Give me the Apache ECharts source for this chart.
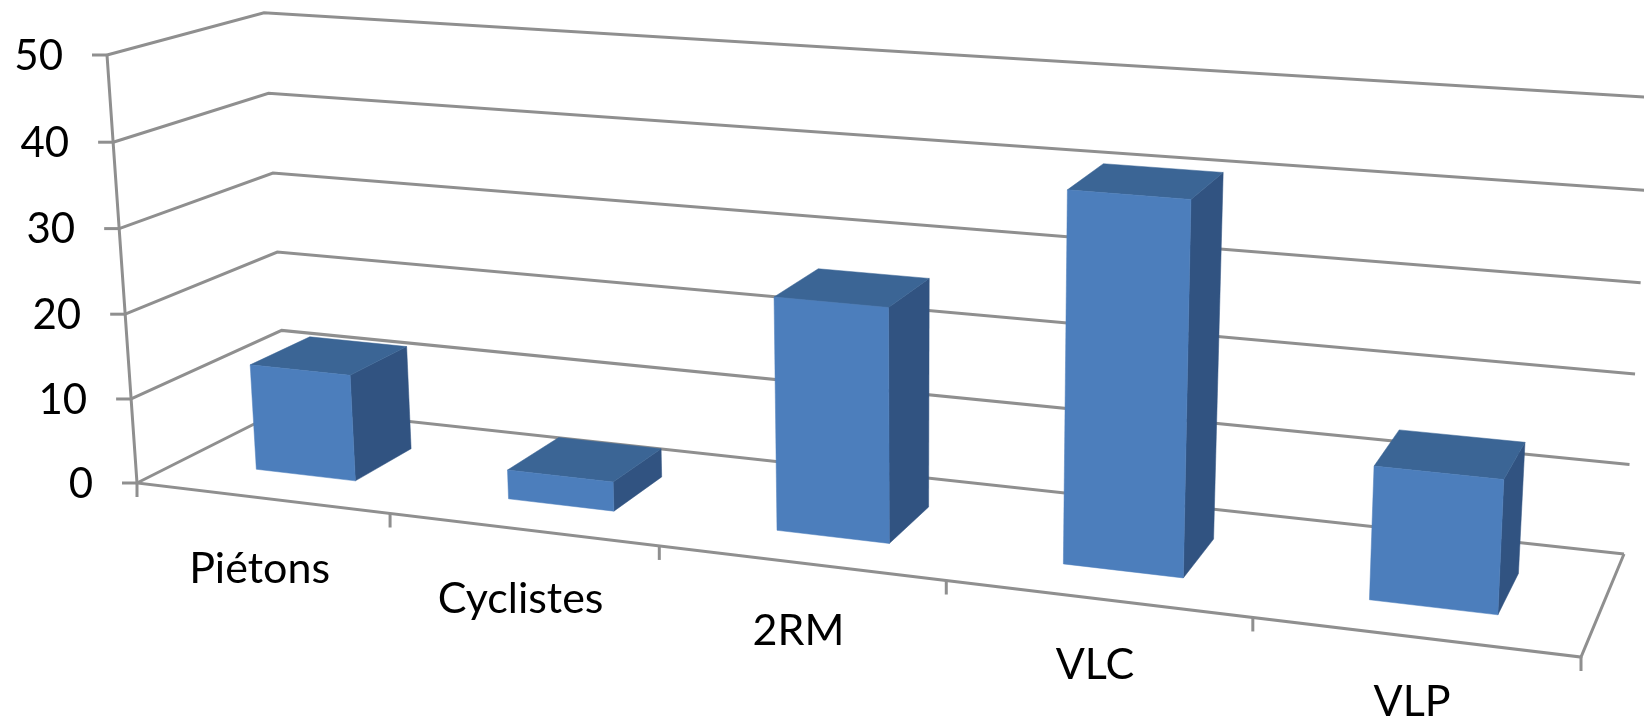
<!DOCTYPE html>
<html>
<head>
<meta charset="utf-8">
<style>html,body{margin:0;padding:0;background:#fff}#c{width:1644px;height:720px}</style>
<script src="https://cdn.jsdelivr.net/npm/echarts@6/dist/echarts.min.js"></script>
</head>
<body>
<div id="c"></div>
<script>
// ---- data ----
var categories = ['Piétons', 'Cyclistes', '2RM', 'VLC', 'VLP'];
var values = [12.6, 3.4, 26.5, 41, 14.4];
var valueTicks = [0, 10, 20, 30, 40, 50];

// ---- perspective frame of the 3D box (pixel corners of the chart's box) ----
var FLB = [137, 483], FRB = [1581, 657], BLB = [286, 408], BRB = [1624, 554];
var FLT = [107, 55], FRT = [1604, 164], BLT = [264, 12.7], BRT = [1652, 97.5];
var KX = 0.85, KH = 0.977, BAR_V0 = 0.3, BAR_V1 = 0.71, BAR_BAND = 0.4, BAR_SHIFT = 0.0016;
var LINE = '#8f8f8f', LW = 3;
var FONT_Y = '42px Lato, Carlito, sans-serif', FONT_X = '43px Lato, Carlito, sans-serif';

function warp(t, k) { return k * t / (1 + (k - 1) * t); }
function mix(a, b, t) { return [a[0] + (b[0] - a[0]) * t, a[1] + (b[1] - a[1]) * t]; }
// u, h in 0..1 along the plain cartesian axes, v is the depth 0..1
function project(u, v, h) {
  var a = warp(u, KX), b = warp(h, KH);
  var bottom = mix(mix(FLB, FRB, a), mix(BLB, BRB, a), v);
  var top = mix(mix(FLT, FRT, a), mix(BLT, BRT, a), v);
  return mix(bottom, top, b);
}
function norm(params, api, x, val) {
  var cs = params.coordSys, p = api.coord([x, val]);
  return {
    u: (p[0] - cs.x) / cs.width,
    h: (cs.y + cs.height - p[1]) / cs.height,
    band: api.size([1, 0])[0] / cs.width
  };
}
function line(points) {
  return { type: 'polyline', shape: { points: points }, style: { stroke: LINE, lineWidth: LW, fill: null, lineJoin: 'miter' } };
}
function face(points, color) {
  return { type: 'polygon', shape: { points: points }, style: { fill: color, stroke: color, lineWidth: 0.5 } };
}
function text(str, p, align, font) {
  return { type: 'text', style: { text: str, x: p[0], y: p[1], fill: '#000', font: font, align: align, verticalAlign: 'middle' } };
}

function renderFrame(params, api) {
  var n = norm(params, api, 0, api.value(1));
  var h = n.h, kids = [];
  var f = project(0, 0, h), b = project(0, 1, h), r = project(1, 1, h);
  kids.push(line([f, b, r]));
  kids.push(line([[f[0] - 15, f[1]], f]));
  kids.push(text(String(api.value(1)), [f[0] - 44, f[1] + 1], 'right', FONT_Y));
  return { type: 'group', children: kids };
}
function renderEdges(params, api) {
  var i = api.value(0), n = norm(params, api, i, 0), kids = [];
  var u = (i + 1) * n.band, p = project(u, 0, 0);
  kids.push(line([p, [p[0], p[1] + 14]]));
  if (i === 0) {
    var o = project(0, 0, 0);
    kids.push(line([[o[0], o[1]], [o[0], o[1] + 14]]));
    kids.push(line([project(0, 0, 1), o, project(1, 0, 0), project(1, 1, 0)]));
  }
  return { type: 'group', children: kids };
}
function renderBar(params, api) {
  var i = api.value(0), n = norm(params, api, i, api.value(1));
  var half = BAR_BAND * n.band / 2;
  var u0 = n.u - half + BAR_SHIFT, u1 = n.u + half + BAR_SHIFT, h = n.h;
  var fbl = project(u0, BAR_V0, 0), fbr = project(u1, BAR_V0, 0), bbr = project(u1, BAR_V1, 0);
  var ftl = project(u0, BAR_V0, h), ftr = project(u1, BAR_V0, h), btl = project(u0, BAR_V1, h), btr = project(u1, BAR_V1, h);
  return { type: 'group', children: [
    face([ftr, btr, bbr, fbr], '#315381'),
    face([ftl, btl, btr, ftr], '#3b6595'),
    face([ftl, ftr, fbr, fbl], '#4c7ebc')
  ] };
}
function renderCategory(params, api) {
  var i = api.value(0), n = norm(params, api, i, 0);
  var p = project(n.u, 0, 0);
  var drop = 72 - 8 * warp(n.u, KX);
  return text(categories[i], [p[0] - 2, p[1] + drop], 'center', FONT_X);
}

var chart = echarts.init(document.getElementById('c'));
chart.setOption({
  backgroundColor: '#fff',
  animation: false,
  grid: { left: FLB[0], top: FLT[1], width: FRB[0] - FLB[0], height: FLB[1] - FLT[1] },
  xAxis: { type: 'category', data: categories, axisLine: { show: false }, axisTick: { show: false }, axisLabel: { show: false } },
  yAxis: { type: 'value', min: 0, max: 50, interval: 10, axisLine: { show: false }, axisTick: { show: false }, axisLabel: { show: false }, splitLine: { show: false } },
  series: [
    { type: 'custom', name: 'frame', renderItem: renderFrame, silent: true, clip: false, data: valueTicks.map(function (t) { return [0, t]; }), encode: { x: 0, y: 1 } },
    { type: 'custom', name: 'edges', renderItem: renderEdges, silent: true, clip: false, data: categories.map(function (c, i) { return [i, 0]; }), encode: { x: 0, y: 1 } },
    { type: 'custom', name: 'bars', renderItem: renderBar, clip: false, data: values.map(function (v, i) { return [i, v]; }), encode: { x: 0, y: 1 } },
    { type: 'custom', name: 'labels', renderItem: renderCategory, silent: true, clip: false, data: categories.map(function (c, i) { return [i, 0]; }), encode: { x: 0, y: 1 } }
  ]
});
</script>
</body>
</html>
